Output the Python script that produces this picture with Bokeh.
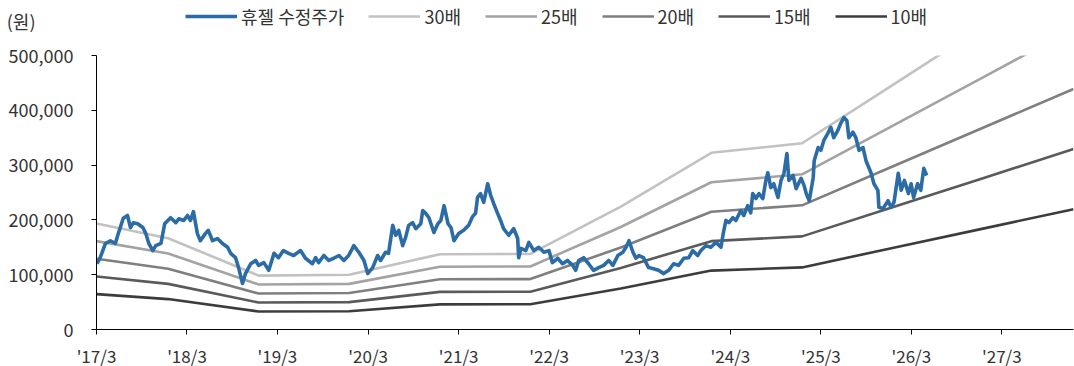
import pandas as pd
from bokeh.plotting import figure
from bokeh.layouts import column
from bokeh.models import (ColumnDataSource, FixedTicker, NumeralTickFormatter, Legend,
                          LegendItem, Range1d)
from bokeh.embed import file_html
from bokeh.resources import INLINE

# ---------------- data ----------------
price_dates = [
    "2017-03-03", "2017-03-16", "2017-04-06", "2017-04-26", "2017-05-16", "2017-05-28", "2017-06-17",
    "2017-07-04", "2017-07-16", "2017-07-28", "2017-08-14", "2017-09-04", "2017-09-16", "2017-09-28",
    "2017-10-14", "2017-10-26", "2017-11-16", "2017-12-01", "2017-12-25", "2018-01-15", "2018-01-27",
    "2018-02-16", "2018-03-03", "2018-03-15", "2018-03-27", "2018-04-12", "2018-04-24", "2018-05-14",
    "2018-05-26", "2018-06-12", "2018-07-02", "2018-07-22", "2018-08-12", "2018-08-24", "2018-09-13",
    "2018-09-25", "2018-10-11", "2018-10-23", "2018-11-13", "2018-12-03", "2018-12-15", "2019-01-05",
    "2019-01-25", "2019-02-15", "2019-03-05", "2019-03-25", "2019-04-15", "2019-05-05", "2019-06-02",
    "2019-06-22", "2019-07-20", "2019-08-02", "2019-08-14", "2019-09-04", "2019-09-24", "2019-10-14",
    "2019-11-04", "2019-11-24", "2019-12-13", "2020-01-03", "2020-01-23", "2020-02-13", "2020-02-28",
    "2020-03-19", "2020-04-08", "2020-04-20", "2020-05-10", "2020-05-22", "2020-06-08", "2020-06-20",
    "2020-07-02", "2020-07-18", "2020-07-30", "2020-08-11", "2020-08-27", "2020-09-09", "2020-09-29",
    "2020-10-07", "2020-10-19", "2020-11-01", "2020-11-21", "2020-12-07", "2020-12-19", "2021-01-01",
    "2021-01-17", "2021-01-29", "2021-02-10", "2021-03-01", "2021-03-21", "2021-04-10", "2021-04-26",
    "2021-05-08", "2021-05-16", "2021-05-28", "2021-06-10", "2021-06-26", "2021-07-08", "2021-07-20",
    "2021-08-05", "2021-08-17", "2021-08-29", "2021-09-19", "2021-10-09", "2021-10-25", "2021-10-29",
    "2021-11-07", "2021-11-27", "2021-12-09", "2021-12-29", "2022-01-18", "2022-02-08", "2022-02-28",
    "2022-03-14", "2022-04-04", "2022-04-24", "2022-05-14", "2022-06-04", "2022-06-16", "2022-06-28",
    "2022-07-18", "2022-08-07", "2022-08-27", "2022-09-17", "2022-10-07", "2022-10-27", "2022-11-13",
    "2022-12-03", "2022-12-23", "2023-01-05", "2023-01-17", "2023-02-02", "2023-02-14", "2023-02-26",
    "2023-03-16", "2023-04-06", "2023-04-26", "2023-05-16", "2023-06-06", "2023-06-26", "2023-07-16",
    "2023-08-05", "2023-08-26", "2023-09-15", "2023-10-01", "2023-10-21", "2023-11-03", "2023-11-23",
    "2023-12-13", "2024-01-03", "2024-01-23", "2024-02-01", "2024-02-12", "2024-02-24", "2024-03-11",
    "2024-03-23", "2024-04-12", "2024-04-24", "2024-05-10", "2024-05-22", "2024-05-30", "2024-06-12",
    "2024-06-24", "2024-07-10", "2024-07-22", "2024-07-30", "2024-08-11", "2024-08-23", "2024-09-09",
    "2024-09-21", "2024-10-03", "2024-10-15", "2024-10-23", "2024-11-09", "2024-11-21", "2024-12-11",
    "2024-12-23", "2025-01-01", "2025-01-13", "2025-01-29", "2025-02-02", "2025-02-18", "2025-03-01",
    "2025-03-13", "2025-03-29", "2025-04-10", "2025-04-22", "2025-05-08", "2025-05-20", "2025-06-02",
    "2025-06-14", "2025-06-22", "2025-07-08", "2025-07-20", "2025-08-02", "2025-08-18", "2025-08-30",
    "2025-09-19", "2025-10-01", "2025-10-17", "2025-10-21", "2025-11-07", "2025-11-27", "2025-12-09",
    "2025-12-21", "2026-01-07", "2026-01-19", "2026-02-01", "2026-02-17", "2026-02-28", "2026-03-10",
    "2026-03-26", "2026-04-08", "2026-04-20", "2026-05-02",
]
price_values = [
    120000, 131000, 157000, 162000, 157000, 175000, 203000,
    208000, 186000, 195000, 193000, 186000, 175000, 157000,
    144000, 153000, 157000, 193000, 204000, 195000, 202000,
    199000, 208000, 199000, 215000, 175000, 162000, 175000,
    181000, 162000, 166000, 157000, 150000, 139000, 131000,
    113000, 84000, 102000, 120000, 126000, 117000, 122000,
    108000, 139000, 131000, 144000, 139000, 135000, 144000,
    130000, 120000, 131000, 122000, 135000, 126000, 130000,
    135000, 126000, 135000, 153000, 141000, 126000, 102000,
    113000, 135000, 126000, 141000, 139000, 190000, 172000,
    181000, 153000, 168000, 190000, 195000, 184000, 193000,
    217000, 212000, 204000, 177000, 193000, 199000, 226000,
    193000, 186000, 162000, 175000, 181000, 190000, 206000,
    212000, 241000, 248000, 232000, 266000, 245000, 230000,
    212000, 199000, 184000, 172000, 184000, 166000, 131000,
    148000, 144000, 159000, 144000, 150000, 141000, 144000,
    122000, 130000, 120000, 126000, 117000, 108000, 126000,
    131000, 120000, 108000, 113000, 117000, 126000, 117000,
    135000, 141000, 150000, 162000, 141000, 130000, 135000,
    131000, 113000, 111000, 108000, 102000, 108000, 120000,
    117000, 130000, 131000, 144000, 135000, 144000, 153000,
    150000, 159000, 150000, 175000, 199000, 195000, 204000,
    199000, 217000, 208000, 226000, 213000, 248000, 239000,
    248000, 239000, 272000, 286000, 259000, 266000, 241000,
    272000, 285000, 321000, 272000, 281000, 257000, 276000,
    263000, 248000, 235000, 277000, 308000, 332000, 327000,
    345000, 358000, 369000, 350000, 363000, 376000, 387000,
    381000, 350000, 360000, 350000, 327000, 332000, 308000,
    286000, 266000, 254000, 223000, 221000, 235000, 223000,
    232000, 285000, 254000, 272000, 248000, 266000, 241000,
    266000, 254000, 294000, 281000,
]

band_dates = ["2017-03-01", "2017-12-15", "2018-12-15", "2019-12-15", "2020-12-15", "2021-12-15",
              "2022-12-15", "2023-12-15", "2024-12-15", "2025-12-15", "2026-12-15", "2027-12-15"]
eps = [6450, 5550, 3280, 3330, 4580, 4600, 7480, 10750, 11330, 14870, 18410, 21950]
multiples = [30, 25, 20, 15, 10]
band_labels = ["30배", "25배", "20배", "15배", "10배"]
band_colors = ["#C2C2C2", "#A3A3A3", "#7F7F7F", "#5A5A5A", "#3C3C3C"]

price_label = "휴젤 수정주가"
price_color = "#2C6CA6"
unit_label = "(원)"

tick_dates = ["2017-03-01", "2018-03-01", "2019-03-01", "2020-03-01", "2021-03-01", "2022-03-01",
              "2023-03-01", "2024-03-01", "2025-03-01", "2026-03-01", "2027-03-01"]
tick_labels = ["'17/3", "'18/3", "'19/3", "'20/3", "'21/3", "'22/3",
               "'23/3", "'24/3", "'25/3", "'26/3", "'27/3"]
y_ticks = [0, 100000, 200000, 300000, 400000, 500000]

# ---------------- styling ----------------
FONT = "Noto Sans CJK KR"
TXT = "#333333"
BAND_W = 2.6
PRICE_W = 3.6

bd = pd.to_datetime(band_dates)
pdts = pd.to_datetime(price_dates)
tk = pd.to_datetime(tick_dates)
tick_ms = [float(t.value // 10**6) for t in tk]

band_sources = [ColumnDataSource(dict(x=bd, y=[e * m for e in eps])) for m in multiples]
psrc = ColumnDataSource(dict(x=pdts, y=price_values))

# ---------------- header (unit label + legend) ----------------
hdr = figure(width=1074, height=40, x_range=Range1d(0, 1), y_range=Range1d(0, 1),
             min_border=0, output_backend="svg", toolbar_location=None)
hdr.grid.visible = False
hdr.outline_line_color = None
hdr.xaxis.visible = False
hdr.yaxis.ticker = FixedTicker(ticks=[0.5])
hdr.yaxis.major_label_overrides = {0.5: unit_label}
hdr.yaxis.axis_line_color = None
hdr.yaxis.major_tick_line_color = None
hdr.yaxis.minor_tick_line_color = None
hdr.yaxis.major_label_standoff = 55
hdr.yaxis.major_label_text_font = FONT
hdr.yaxis.major_label_text_font_size = "18px"
hdr.yaxis.major_label_text_color = TXT

# legend samples share the chart's data; they fall outside this header's ranges
leg_bands = [hdr.line("x", "y", source=s, line_color=c, line_width=BAND_W)
             for s, c in zip(band_sources, band_colors)]
leg_price = hdr.line("x", "y", source=psrc, line_color=price_color, line_width=PRICE_W)
items = [LegendItem(label=price_label, renderers=[leg_price])]
items += [LegendItem(label=l, renderers=[r]) for l, r in zip(band_labels, leg_bands)]
legend = Legend(items=items, orientation="horizontal", location=(89, 11),
                padding=0, margin=0, spacing=24, glyph_width=52, glyph_height=18,
                label_standoff=4, label_text_font=FONT, label_text_font_size="18px",
                label_text_color=TXT, border_line_alpha=0, background_fill_alpha=0,
                label_height=18)
hdr.add_layout(legend, "center")

# ---------------- main chart ----------------
p = figure(x_axis_type="datetime", frame_width=977, frame_height=274,
           min_border_left=96, min_border_right=1, min_border_top=15, min_border_bottom=36,
           output_backend="svg", toolbar_location=None,
           x_range=Range1d(bd[0], bd[-1]), y_range=Range1d(0, 500000))
p.outline_line_color = None
p.xgrid.visible = False
p.ygrid.visible = False

for s, col in zip(band_sources, band_colors):
    p.line("x", "y", source=s, line_color=col, line_width=BAND_W)
p.line("x", "y", source=psrc, line_color=price_color, line_width=PRICE_W, line_join="round")

p.xaxis.ticker = FixedTicker(ticks=tick_ms)
p.xaxis.major_label_overrides = {t: l for t, l in zip(tick_ms, tick_labels)}
p.yaxis.ticker = FixedTicker(ticks=y_ticks)
p.yaxis.formatter = NumeralTickFormatter(format="0,0")
for ax in (p.xaxis[0], p.yaxis[0]):
    ax.axis_line_color = "#000000"
    ax.axis_line_width = 1
    ax.major_tick_line_color = "#000000"
    ax.major_tick_out = 5
    ax.major_tick_in = 0
    ax.minor_tick_line_color = None
    ax.major_label_text_font = FONT
    ax.major_label_text_color = TXT
p.yaxis.major_label_text_font_size = "18px"
p.xaxis.major_label_text_font_size = "17px"
p.yaxis.major_label_standoff = 18
p.xaxis.major_label_standoff = 8

layout = column(hdr, p, spacing=0)
open("out.html", "w").write(file_html(layout, INLINE))
